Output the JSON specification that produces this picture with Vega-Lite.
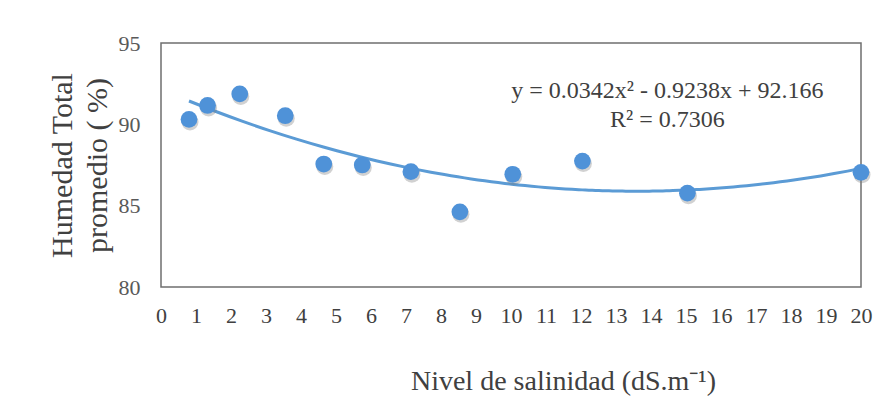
{
  "$schema": "https://vega.github.io/schema/vega-lite/v6.json",
  "width": 700,
  "height": 244,
  "autosize": {"type": "none"},
  "padding": {"left": 161, "top": 43, "right": 28, "bottom": 109},
  "background": "white",
  "config": {
    "view": {"stroke": "#6f6f6f", "strokeWidth": 1.5},
    "font": "Liberation Serif"
  },
  "data": {
    "values": [
      {"salinidad": 0.8, "humedad": 90.3},
      {"salinidad": 1.33, "humedad": 91.16},
      {"salinidad": 2.25, "humedad": 91.87},
      {"salinidad": 3.55, "humedad": 90.53},
      {"salinidad": 4.65, "humedad": 87.56},
      {"salinidad": 5.75, "humedad": 87.5},
      {"salinidad": 7.14, "humedad": 87.09},
      {"salinidad": 8.54, "humedad": 84.62},
      {"salinidad": 10.05, "humedad": 86.93},
      {"salinidad": 12.04, "humedad": 87.74},
      {"salinidad": 15.04, "humedad": 85.77},
      {"salinidad": 20.0, "humedad": 87.05}
    ]
  },
  "encoding": {
    "x": {
      "field": "salinidad",
      "type": "quantitative",
      "scale": {"domain": [0, 20], "nice": false, "zero": false},
      "axis": {
        "values": [0,1,2,3,4,5,6,7,8,9,10,11,12,13,14,15,16,17,18,19,20],
        "domain": false,
        "ticks": false,
        "grid": false,
        "labelFontSize": 22,
        "labelColor": "#404040",
        "labelPadding": 18,
        "labelFlush": false,
        "labelOverlap": false,
        "title": "Nivel de salinidad (dS.m⁻¹)",
        "titleFontSize": 28,
        "titleFontWeight": "normal",
        "titleColor": "#404040",
        "titleAnchor": "start",
        "titleAlign": "center",
        "titleBaseline": "alphabetic",
        "titleX": 402,
        "titleY": 102
      }
    },
    "y": {
      "field": "humedad",
      "type": "quantitative",
      "scale": {"domain": [80, 95], "nice": false, "zero": false},
      "axis": {
        "values": [80, 85, 90, 95],
        "domain": false,
        "ticks": false,
        "grid": false,
        "labelFontSize": 22,
        "labelColor": "#595959",
        "labelPadding": 21,
        "title": ["Humedad Total", "promedio ( %)"],
        "titleFontSize": 30,
        "titleFontWeight": "normal",
        "titleColor": "#404040",
        "titleLineHeight": 35,
        "titleAngle": -90,
        "titleAlign": "center",
        "titleBaseline": "middle",
        "titleX": -99,
        "titleY": 122
      }
    }
  },
  "layer": [
    {
      "transform": [
        {"regression": "humedad", "on": "salinidad", "method": "poly", "order": 2}
      ],
      "mark": {"type": "line", "color": "#5b9bd5", "strokeWidth": 3, "interpolate": "monotone"}
    },
    {
      "mark": {"type": "point", "filled": true, "shape": "circle", "size": 290, "color": "#7a7a7a", "opacity": 0.35},
      "encoding": {
        "xOffset": {"value": 1},
        "yOffset": {"value": 2.5}
      }
    },
    {
      "mark": {"type": "point", "filled": true, "shape": "circle", "size": 280, "color": "#4f92d8", "opacity": 1}
    },
    {
      "data": {"values": [
        {"label": "y = 0.0342x² - 0.9238x + 92.166", "salinidad": 14.47, "humedad": 92.05},
        {"label": "R² = 0.7306", "salinidad": 14.47, "humedad": 90.27}
      ]},
      "mark": {"type": "text", "fontSize": 24, "color": "#404040", "align": "center", "baseline": "middle", "font": "Liberation Serif"},
      "encoding": {
        "text": {"field": "label"}
      }
    }
  ]
}
